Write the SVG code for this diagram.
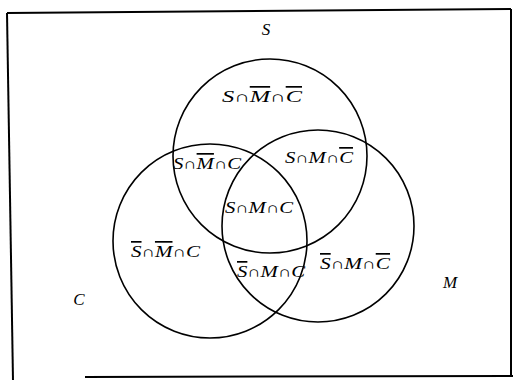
<svg xmlns="http://www.w3.org/2000/svg" width="513" height="380" viewBox="0 0 513 380">
<style>
.frame{stroke:#000;stroke-width:2;fill:none}
.set{stroke:#000;stroke-width:1.6;fill:none}
.lbl{font-family:"Liberation Serif","DejaVu Serif",serif;font-size:17px;font-style:italic;fill:#000}
.op{font-style:normal;font-family:"Liberation Serif","DejaVu Serif",serif;font-size:15px}
.bar{text-decoration:overline;text-decoration-thickness:1px}
</style>
<rect width="513" height="380" fill="#fff"/>
<g id="frame">
<line class="frame" x1="7" y1="13" x2="511" y2="9"/>
<line class="frame" x1="7" y1="13" x2="13" y2="380"/>
<line class="frame" x1="511" y1="9" x2="511" y2="376"/>
<line class="frame" x1="85" y1="377" x2="513" y2="376"/>
</g>
<g id="set-S"><circle class="set" cx="270" cy="156" r="97"/><text class="lbl" x="266" y="35" text-anchor="middle">S</text></g>
<g id="set-C"><circle class="set" cx="210" cy="241" r="97"/><text class="lbl" x="79" y="305" text-anchor="middle">C</text></g>
<g id="set-M"><circle class="set" cx="318" cy="226" r="96"/><text class="lbl" x="450" y="288" text-anchor="middle">M</text></g>
<g id="regions">
<text class="lbl" x="222" y="102" textLength="80" lengthAdjust="spacingAndGlyphs">S<tspan class="op">∩</tspan><tspan class="bar">M</tspan><tspan class="op">∩</tspan><tspan class="bar">C</tspan></text>
<text class="lbl" x="173" y="169" textLength="68" lengthAdjust="spacingAndGlyphs">S<tspan class="op">∩</tspan><tspan class="bar">M</tspan><tspan class="op">∩</tspan>C</text>
<text class="lbl" x="285" y="163" textLength="68" lengthAdjust="spacingAndGlyphs">S<tspan class="op">∩</tspan>M<tspan class="op">∩</tspan><tspan class="bar">C</tspan></text>
<text class="lbl" x="225" y="213" textLength="68" lengthAdjust="spacingAndGlyphs">S<tspan class="op">∩</tspan>M<tspan class="op">∩</tspan>C</text>
<text class="lbl" x="131" y="257" textLength="69" lengthAdjust="spacingAndGlyphs"><tspan class="bar">S</tspan><tspan class="op">∩</tspan><tspan class="bar">M</tspan><tspan class="op">∩</tspan>C</text>
<text class="lbl" x="237" y="277" textLength="68" lengthAdjust="spacingAndGlyphs"><tspan class="bar">S</tspan><tspan class="op">∩</tspan>M<tspan class="op">∩</tspan>C</text>
<text class="lbl" x="320" y="269" textLength="70" lengthAdjust="spacingAndGlyphs"><tspan class="bar">S</tspan><tspan class="op">∩</tspan>M<tspan class="op">∩</tspan><tspan class="bar">C</tspan></text>
</g>
</svg>
